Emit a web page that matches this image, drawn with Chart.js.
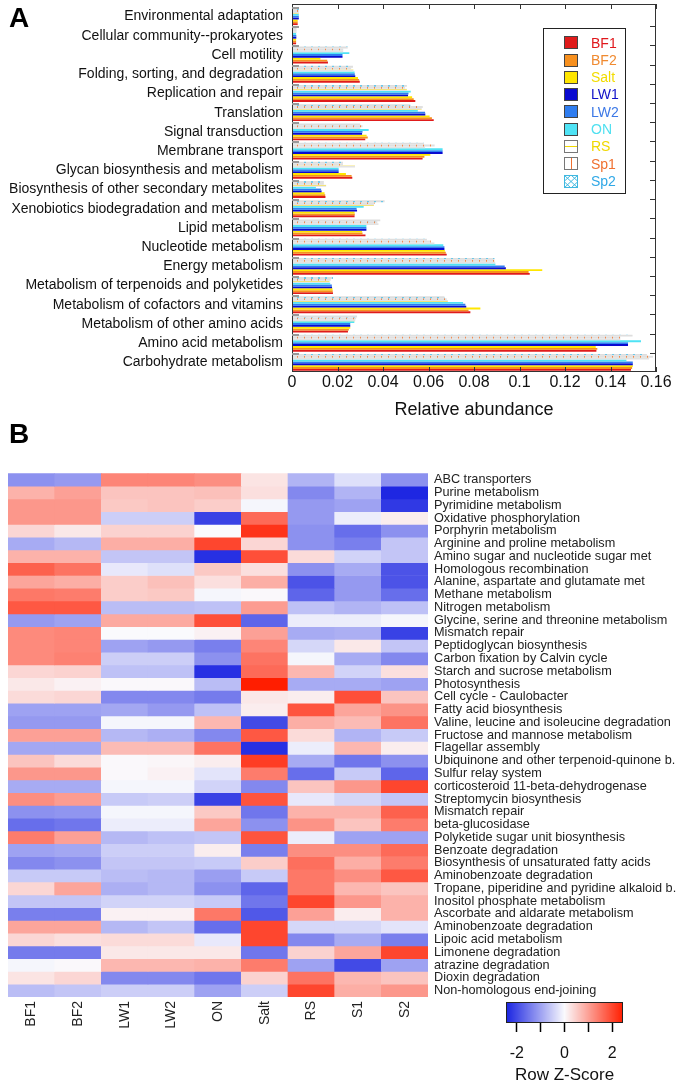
<!DOCTYPE html>
<html>
<head>
<meta charset="utf-8">
<script src="https://cdn.jsdelivr.net/npm/chart.js@4.4.1/dist/chart.umd.min.js"></script>
<style>
html, body { margin: 0; padding: 0; background: #fff; }
#page { position: relative; width: 677px; height: 1084px; overflow: hidden; font-family: Arial, "Liberation Sans", sans-serif; }
.letra { position: absolute; font-weight: bold; font-size: 28px; line-height: 1; color: #000; }
.caja { position: absolute; }
</style>
</head>
<body>
<div id="page">
  <div class="caja" style="left:0;top:0;"><canvas id="chartA" width="677" height="430"></canvas></div>
  <div class="caja" style="left:0;top:465px;"><canvas id="chartB" width="677" height="580"></canvas></div>
  <div class="caja" style="left:480px;top:990px;"><canvas id="chartKey" width="180" height="94"></canvas></div>
  <div class="letra" style="left:9px;top:4px;">A</div>
  <div class="letra" style="left:9px;top:420px;">B</div>
</div>
<script>
// -----------------------------
// DATOS PANEL A
// -----------------------------
const categorias = [
  "Environmental adaptation", "Cellular community--prokaryotes", "Cell motility",
  "Folding, sorting, and degradation", "Replication and repair", "Translation",
  "Signal transduction", "Membrane transport", "Glycan biosynthesis and metabolism",
  "Biosynthesis of other secondary metabolites", "Xenobiotics biodegradation and metabolism",
  "Lipid metabolism", "Nucleotide metabolism", "Energy metabolism",
  "Metabolism of terpenoids and polyketides", "Metabolism of cofactors and vitamins",
  "Metabolism of other amino acids", "Amino acid metabolism", "Carbohydrate metabolism"
];

const series = ["BF1", "BF2", "Salt", "LW1", "LW2", "ON", "RS", "Sp1", "Sp2"];

const bf1  = [0.0025, 0.0018, 0.0158, 0.0298, 0.0542, 0.0623, 0.0322, 0.0574, 0.0265, 0.0147, 0.0275, 0.0323, 0.0680, 0.1045, 0.0180, 0.0784, 0.0246, 0.1338, 0.1490];
const bf2  = [0.0025, 0.0018, 0.0155, 0.0295, 0.0535, 0.0615, 0.0333, 0.0582, 0.0262, 0.0146, 0.0276, 0.0310, 0.0676, 0.1040, 0.0179, 0.0776, 0.0250, 0.1342, 0.1495];
const salt = [0.0025, 0.0018, 0.0125, 0.0290, 0.0528, 0.0605, 0.0328, 0.0608, 0.0237, 0.0143, 0.0275, 0.0308, 0.0672, 0.1100, 0.0178, 0.0828, 0.0256, 0.1335, 0.1498];
const lw1  = [0.0030, 0.0019, 0.0222, 0.0278, 0.0510, 0.0586, 0.0308, 0.0662, 0.0205, 0.0130, 0.0286, 0.0327, 0.0670, 0.0940, 0.0176, 0.0766, 0.0256, 0.1477, 0.1498];
const lw2  = [0.0030, 0.0019, 0.0222, 0.0276, 0.0512, 0.0585, 0.0310, 0.0662, 0.0205, 0.0128, 0.0284, 0.0327, 0.0670, 0.0935, 0.0175, 0.0762, 0.0256, 0.1477, 0.1498];
const on   = [0.0030, 0.0018, 0.0252, 0.0275, 0.0522, 0.0553, 0.0337, 0.0662, 0.0205, 0.0105, 0.0315, 0.0327, 0.0665, 0.0894, 0.0168, 0.0752, 0.0274, 0.1534, 0.1470];
const rs   = [0.0030, 0.0020, 0.0225, 0.0270, 0.0505, 0.0570, 0.0300, 0.0585, 0.0277, 0.0150, 0.0360, 0.0380, 0.0626, 0.0893, 0.0165, 0.0685, 0.0278, 0.1443, 0.1570];
const sp1  = [0.0030, 0.0020, 0.0225, 0.0260, 0.0497, 0.0575, 0.0310, 0.0627, 0.0224, 0.0140, 0.0363, 0.0375, 0.0610, 0.0890, 0.0170, 0.0680, 0.0282, 0.1443, 0.1587];
const sp2  = [0.0030, 0.0020, 0.0245, 0.0268, 0.0505, 0.0520, 0.0300, 0.0580, 0.0224, 0.0140, 0.0407, 0.0388, 0.0593, 0.0890, 0.0180, 0.0670, 0.0286, 0.1497, 0.1560];

const valoresSeries = [bf1, bf2, salt, lw1, lw2, on, rs, sp1, sp2];
const ticksX = [0, 0.02, 0.04, 0.06, 0.08, 0.1, 0.12, 0.14, 0.16];

// -----------------------------
// DATOS PANEL B (Z-score por fila, una lista por columna)
// -----------------------------
const columnas = ["BF1", "BF2", "LW1", "LW2", "ON", "Salt", "RS", "S1", "S2"];

const filas = [
  "ABC transporters", "Purine metabolism", "Pyrimidine metabolism", "Oxidative phosphorylation",
  "Porphyrin metabolism", "Arginine and proline metabolism", "Amino sugar and nucleotide sugar met",
  "Homologous recombination", "Alanine, aspartate and glutamate met", "Methane metabolism",
  "Nitrogen metabolism", "Glycine, serine and threonine metabolism", "Mismatch repair",
  "Peptidoglycan biosynthesis", "Carbon fixation by Calvin cycle", "Starch and sucrose metabolism",
  "Photosynthesis", "Cell cycle - Caulobacter", "Fatty acid biosynthesis",
  "Valine, leucine and isoleucine degradation", "Fructose and mannose metabolism", "Flagellar assembly",
  "Ubiquinone and other terpenoid-quinone b.", "Sulfur relay system", "corticosteroid 11-beta-dehydrogenase",
  "Streptomycin biosynthesis", "Mismatch repair", "beta-glucosidase", "Polyketide sugar unit biosynthesis",
  "Benzoate degradation", "Biosynthesis of unsaturated fatty acids", "Aminobenzoate degradation",
  "Tropane, piperidine and pyridine alkaloid b.", "Inositol phosphate metabolism",
  "Ascorbate and aldarate metabolism", "Aminobenzoate degradation", "Lipoic acid metabolism",
  "Limonene degradation", "atrazine degradation", "Dioxin degradation", "Non-homologous end-joining"
];

const zBF1  = [-1.2, 0.8, 1.1, 1.1, 0.4, -0.9, 0.8, 1.7, 0.95, 1.45, 1.8, -1.1, 1.25, 1.25, 1.25, 0.4, 0.2, 0.35, -1.0, -1.1, 1.0, -0.95, 0.6, 1.1, -0.9, 1.2, -1.2, -1.6, 1.4, -1.0, -1.3, -0.55, 0.4, -0.6, -1.4, 0.95, 0.4, -1.45, -0.05, 0.25, -0.7];
const zBF2  = [-1.1, 1.0, 1.1, 1.1, 0.2, -0.75, 0.8, 1.5, 0.85, 1.4, 1.8, -1.0, 1.3, 1.3, 1.35, 0.45, 0.1, 0.4, -1.0, -1.1, 1.0, -0.95, 0.35, 1.1, -0.9, 1.05, -1.15, -1.5, 1.0, -0.95, -1.2, -0.55, 0.95, -0.6, -1.4, 0.95, 0.3, -1.45, 0.02, 0.4, -0.6];
const zLW1  = [1.3, 0.6, 0.55, -0.5, 0.45, 0.85, -0.6, -0.2, 0.5, 0.5, -0.7, 0.9, 0.0, -1.0, -0.5, -0.65, 0.02, -1.3, -0.95, -0.05, -0.75, 0.7, 0.02, 0.02, -0.05, -0.55, -0.05, -0.15, -0.75, -0.5, -0.6, -0.7, -0.85, -0.45, 0.1, -0.75, 0.35, 0.2, 0.75, -1.3, -0.5];
const zLW2  = [1.3, 0.6, 0.6, -0.5, 0.45, 0.85, -0.6, -0.3, 0.65, 0.55, -0.7, 0.9, 0.0, -1.1, -0.5, -0.65, 0.02, -1.3, -1.1, -0.05, -0.85, 0.7, 0.05, 0.1, -0.05, -0.5, -0.05, -0.15, -0.65, -0.5, -0.6, -0.75, -0.75, -0.45, 0.1, -0.6, 0.35, 0.2, 0.75, -1.3, -0.5];
const zON   = [1.2, 0.65, 0.5, -2.1, 0.0, 2.0, -2.3, 0.55, 0.3, -0.05, -0.65, 1.9, 0.1, -1.4, -1.2, -2.3, -0.7, -1.45, -0.65, 0.75, -1.3, 1.5, 0.15, -0.25, -0.45, -2.1, 0.55, 0.95, -0.6, 0.15, -0.55, -1.05, -1.2, -0.55, 1.45, -1.6, -0.2, 0.2, 0.8, -1.5, -1.0];
const zSalt = [0.25, 0.3, -0.05, 1.6, 2.2, 0.4, 1.9, 0.3, 0.85, 0.02, 1.05, -1.7, 1.0, 1.3, 1.5, 1.6, 2.45, 0.2, 0.15, -2.0, 1.8, -2.3, 2.1, 1.4, -1.3, 1.85, -1.5, -1.2, 1.85, -1.4, 0.5, -0.55, -1.7, -1.5, -1.85, 2.0, 2.0, -1.5, 1.4, 0.45, -0.5];
const zRS   = [-0.8, -1.3, -1.1, -1.1, -1.2, -1.2, 0.35, -1.2, -1.9, -1.7, -0.65, -0.15, -0.9, -0.4, -0.05, 0.75, -0.9, 0.15, 1.85, 0.85, 0.35, -0.15, -0.9, -1.6, 0.6, -0.2, 0.8, 1.15, -0.15, 1.2, 1.55, 1.45, 1.45, 2.0, 1.0, -0.4, -1.3, 0.45, -1.0, 1.5, 2.0];
const zS1   = [-0.3, -0.8, -1.0, -0.15, -1.6, -1.4, -0.45, -0.9, -1.1, -1.1, -0.8, -0.15, -0.85, 0.2, -0.9, -0.45, -0.9, 1.9, 0.95, 0.7, -0.8, 0.75, -1.5, -0.55, 1.1, -0.4, 0.8, 0.6, -1.0, 1.2, 0.85, 1.2, 0.75, 1.1, 0.15, -0.4, -0.9, 0.95, -2.0, 0.75, 0.85];
const zS2   = [-1.2, -2.4, -2.2, 0.15, -1.2, -0.6, -0.6, -1.9, -1.9, -1.6, -0.65, -0.05, -2.1, -0.6, -1.3, 0.3, -1.0, 0.6, 1.15, 1.5, -0.55, 0.15, -1.2, -1.7, 2.0, -0.6, 1.7, 1.4, -1.0, 1.6, 1.4, 1.8, 0.6, 0.8, 0.8, -0.25, -1.4, 2.0, -1.0, 0.6, 1.1];

const zColumnas = [zBF1, zBF2, zLW1, zLW2, zON, zSalt, zRS, zS1, zS2];
const ticksClave = [-2, -1, 0, 1, 2];
const rangoZ = 2.45;

// -----------------------------
// ESTILOS
// -----------------------------
Chart.defaults.font.family = 'Arial, "Liberation Sans", Helvetica, sans-serif';
Chart.defaults.color = "#111";
Chart.defaults.animation = false;

const coloresBarra = ["#e01b1b", "#f7901e", "#ffe600", "#0a0ad0", "#2f7df0", "#4fe3f5"];
const coloresTexto = ["#e0181c", "#f08a30", "#f2dc00", "#1010c8", "#3c78e6", "#50e0f0", "#f0d800", "#f07030", "#30a8e6"];

function patron(fondo, marca, tipo) {
    const c = document.createElement("canvas");
    c.width = 7; c.height = 4;
    const g = c.getContext("2d");
    g.fillStyle = fondo;
    g.fillRect(0, 0, 7, 4);
    g.fillStyle = marca;
    if (tipo === "linea") g.fillRect(0, 1, 7, 1);
    else if (tipo === "tick") g.fillRect(3, 0, 1, 4);
    else g.fillRect(3, 1, 2, 2);
    return g.createPattern(c, "repeat");
}

function rellenoSerie(i) {
    if (i < 6) return coloresBarra[i];
    if (i === 6) return patron("#e2e2e2", "#f3e37a", "linea");
    if (i === 7) return patron("#e0e0e0", "#f08a50", "tick");
    return patron("#dedede", "#6cc8e8", "punto");
}

function colorZ(z) {
    const t = Math.max(-1, Math.min(1, z / rangoZ));
    const blanco = [250, 250, 253];
    const fin = t < 0 ? [25, 35, 225] : [255, 30, 0];
    const a = Math.abs(t);
    const c = blanco.map((b, k) => Math.round(b + (fin[k] - b) * a));
    return `rgb(${c[0]},${c[1]},${c[2]})`;
}

// quita el relleno que Chart.js reserva para media etiqueta arriba/abajo
function sinRelleno(s) {
    s.paddingTop = 0;
    s.paddingBottom = 0;
}

// -----------------------------
// PANEL A: barras horizontales
// -----------------------------
const marcoA = {
    id: "marcoA",
    afterDraw(chart) {
        const { ctx, chartArea: a, scales: { x, y } } = chart;
        const arriba = a.top - 3;
        ctx.save();
        ctx.strokeStyle = "#333";
        ctx.lineWidth = 1;
        ctx.strokeRect(Math.round(a.left) + 0.5, Math.round(arriba) + 0.5,
            Math.round(a.right - a.left) - 1, Math.round(a.bottom - arriba) - 1);

        ctx.beginPath();
        for (const v of ticksX) {
            const px = Math.round(x.getPixelForValue(v)) + 0.5;
            ctx.moveTo(px, arriba); ctx.lineTo(px, arriba + 5);
            ctx.moveTo(px, a.bottom); ctx.lineTo(px, a.bottom - 5);
        }
        const paso = y.getPixelForValue(1) - y.getPixelForValue(0);
        for (let i = 1; i < categorias.length; i++) {
            const py = Math.round(y.getPixelForValue(i) - paso / 2) + 0.5;
            ctx.moveTo(a.right, py); ctx.lineTo(a.right - 6, py);
        }
        ctx.stroke();

        ctx.strokeStyle = "#999";
        ctx.lineWidth = 2;
        ctx.beginPath();
        for (let i = 0; i < categorias.length; i++) {
            const py = Math.round(y.getPixelForValue(i) - paso / 2) + 1;
            ctx.moveTo(a.left, py); ctx.lineTo(a.left + 7, py);
        }
        ctx.stroke();

        // leyenda dentro del área
        const x0 = a.right - 113, y0 = arriba + 24;
        ctx.lineWidth = 1;
        ctx.strokeStyle = "#222";
        ctx.fillStyle = "#fff";
        ctx.fillRect(x0, y0, 82, 165);
        ctx.strokeRect(x0 + 0.5, y0 + 0.5, 82, 165);
        ctx.font = '14px Arial, "Liberation Sans", sans-serif';
        ctx.textBaseline = "middle";
        series.forEach((nombre, i) => {
            const cy = y0 + 14.7 + i * 17.3;
            const sx = x0 + 21, sy = Math.round(cy - 6.5);
            if (i < 6) {
                ctx.fillStyle = coloresBarra[i];
                ctx.fillRect(sx, sy, 14, 13);
                ctx.strokeStyle = "#444";
                ctx.strokeRect(sx + 0.5, sy + 0.5, 13, 12);
            } else {
                ctx.fillStyle = "#fff";
                ctx.fillRect(sx, sy, 14, 13);
                ctx.strokeStyle = i === 8 ? "#40b8e0" : "#777";
                ctx.strokeRect(sx + 0.5, sy + 0.5, 13, 12);
                ctx.beginPath();
                if (i === 6) {
                    ctx.strokeStyle = "#f0d800";
                    ctx.moveTo(sx + 1, sy + 6.5); ctx.lineTo(sx + 13, sy + 6.5);
                } else if (i === 7) {
                    ctx.strokeStyle = "#f07030";
                    ctx.moveTo(sx + 7.5, sy + 1); ctx.lineTo(sx + 7.5, sy + 12);
                } else {
                    ctx.strokeStyle = "#40b8e0";
                    ctx.moveTo(sx, sy + 6.5); ctx.lineTo(sx + 7, sy); ctx.lineTo(sx + 14, sy + 6.5);
                    ctx.lineTo(sx + 7, sy + 13); ctx.closePath();
                    ctx.moveTo(sx, sy); ctx.lineTo(sx + 14, sy + 13);
                    ctx.moveTo(sx + 14, sy); ctx.lineTo(sx, sy + 13);
                }
                ctx.stroke();
            }
            ctx.fillStyle = coloresTexto[i];
            ctx.fillText(nombre, x0 + 48, cy + 1);
        });
        ctx.restore();
    }
};

const datasetsA = series.map((nombre, i) => ({
    label: nombre,
    data: valoresSeries[i],
    backgroundColor: rellenoSerie(i),
    borderWidth: 0,
    barPercentage: 1,
    categoryPercentage: 0.88
})).reverse();

new Chart(document.getElementById("chartA"), {
    type: "bar",
    data: { labels: categorias, datasets: datasetsA },
    options: {
        responsive: false,
        indexAxis: "y",
        layout: { padding: { top: 7, right: 21, left: 0, bottom: 0 } },
        plugins: { legend: { display: false }, tooltip: { enabled: false } },
        scales: {
            x: {
                min: 0, max: 0.16,
                afterBuildTicks: (s) => { s.ticks = ticksX.map(v => ({ value: v })); },
                ticks: {
                    font: { size: 16 }, color: "#111", padding: 1,
                    callback: (v) => String(Math.round(v * 100) / 100)
                },
                grid: { display: false, drawTicks: false },
                border: { display: false },
                title: { display: true, text: "Relative abundance", font: { size: 18 }, color: "#111", padding: { top: 0, bottom: 9 } },
                afterFit: (s) => { s.height = 58; }
            },
            y: {
                ticks: { font: { size: 14 }, color: "#111", padding: 9, autoSkip: false },
                grid: { display: false, drawTicks: false },
                border: { display: false },
                afterFit: (s) => { s.width = 292; sinRelleno(s); }
            }
        }
    },
    plugins: [marcoA]
});

// -----------------------------
// PANEL B: mapa de calor (barras apiladas de altura 1)
// -----------------------------
const datasetsB = filas.map((nombre, r) => ({
    label: nombre,
    data: columnas.map(() => 1),
    backgroundColor: columnas.map((c, k) => colorZ(zColumnas[k][r])),
    borderWidth: 0,
    barPercentage: 1,
    categoryPercentage: 1,
    stack: "mapa"
}));

new Chart(document.getElementById("chartB"), {
    type: "bar",
    data: { labels: columnas, datasets: datasetsB },
    options: {
        responsive: false,
        layout: { padding: { top: 8.3, left: 8, right: 0, bottom: 0 } },
        plugins: { legend: { display: false }, tooltip: { enabled: false } },
        scales: {
            x: {
                stacked: true,
                grid: { display: false, drawTicks: false },
                border: { display: false },
                ticks: { minRotation: 90, maxRotation: 90, font: { size: 14 }, color: "#222", padding: 4 },
                afterFit: (s) => { s.height = 48; }
            },
            y: { stacked: true, reverse: true, min: 0, max: filas.length, display: false },
            filasEje: {
                type: "category",
                labels: filas,
                position: "right",
                offset: true,
                grid: { display: false, drawTicks: false },
                border: { display: false },
                ticks: { font: { size: 12.7 }, color: "#222", padding: 6, autoSkip: false },
                afterFit: (s) => { s.width = 249; sinRelleno(s); }
            }
        }
    }
});

// -----------------------------
// CLAVE DE COLOR
// -----------------------------
const degradado = {
    id: "degradado",
    beforeDraw(chart) {
        const { ctx, chartArea: a, scales: { x } } = chart;
        ctx.save();
        for (let px = Math.floor(a.left); px < a.right; px++) {
            ctx.fillStyle = colorZ(x.getValueForPixel(px + 0.5));
            ctx.fillRect(px, a.top, 1, a.bottom - a.top);
        }
        ctx.strokeStyle = "#222";
        ctx.lineWidth = 1;
        ctx.strokeRect(Math.round(a.left) + 0.5, Math.round(a.top) + 0.5,
            Math.round(a.right - a.left) - 1, Math.round(a.bottom - a.top) - 1);
        ctx.restore();
    }
};

new Chart(document.getElementById("chartKey"), {
    type: "scatter",
    data: { datasets: [] },
    options: {
        responsive: false,
        layout: { padding: { top: 12, left: 26, right: 37, bottom: 0 } },
        plugins: { legend: { display: false }, tooltip: { enabled: false } },
        scales: {
            x: {
                min: -rangoZ, max: rangoZ,
                afterBuildTicks: (s) => { s.ticks = ticksClave.map(v => ({ value: v })); },
                ticks: { font: { size: 16 }, color: "#111", padding: 12,
                    callback: (v) => (v % 2 === 0 ? String(v) : "") },
                grid: { drawOnChartArea: false, drawTicks: true, tickLength: 9, tickColor: "#000", tickWidth: 1.5 },
                border: { display: false },
                title: { display: true, text: "Row Z-Score", font: { size: 17, lineHeight: 1 }, color: "#111", padding: { top: 0, bottom: 0 } },
                afterFit: (s) => { s.height = 61; }
            },
            y: { display: false, min: 0, max: 1 }
        }
    },
    plugins: [degradado]
});
</script>
</body>
</html>
